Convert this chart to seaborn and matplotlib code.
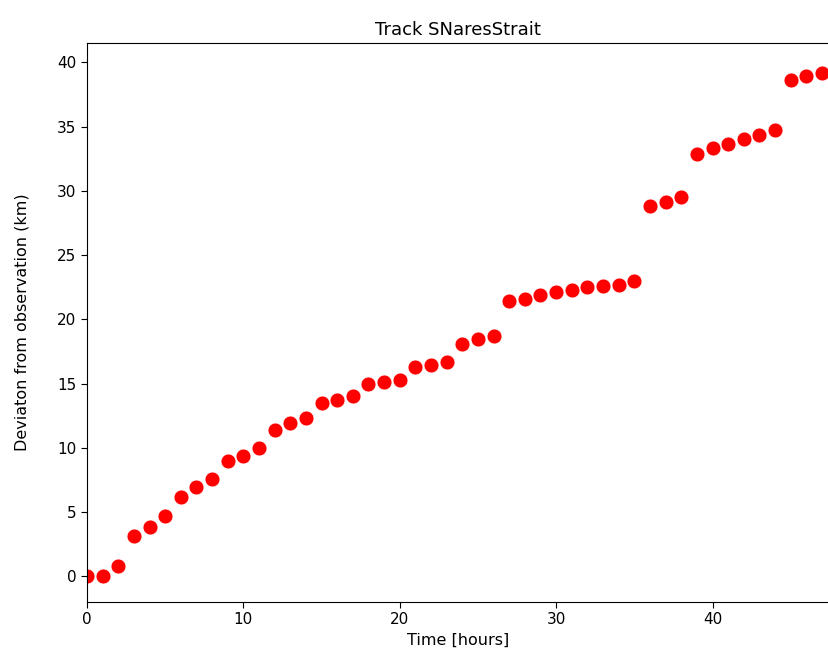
import pandas as pd
import matplotlib
matplotlib.use('Agg')
import matplotlib.pyplot as plt
import seaborn as sns

hours = list(range(48))
deviation = [0.0, 0.0, 0.8, 3.1, 3.85, 4.7, 6.2, 6.95, 7.55, 8.95,
             9.4, 9.95, 11.4, 11.9, 12.35, 13.5, 13.75, 14.0, 14.95, 15.15,
             15.3, 16.25, 16.45, 16.7, 18.1, 18.45, 18.7, 21.4, 21.6, 21.9,
             22.1, 22.25, 22.5, 22.6, 22.7, 22.95, 28.8, 29.1, 29.5, 32.85,
             33.3, 33.65, 34.0, 34.35, 34.7, 38.6, 38.95, 39.2]

df = pd.DataFrame({'hours': hours, 'deviation': deviation})

sns.set_style('ticks')
plt.rcParams['font.family'] = ['DejaVu Sans']
plt.rcParams['text.color'] = 'black'
plt.rcParams['axes.labelcolor'] = 'black'
plt.rcParams['xtick.color'] = 'black'
plt.rcParams['ytick.color'] = 'black'

fig = plt.figure(figsize=(8.29, 6.71), dpi=100)
ax = fig.add_axes([87/829, 69/671, 1 - 87/829, 559/671])
sns.scatterplot(x='hours', y='deviation', data=df, color='red', s=115,
                edgecolor='white', linewidth=0.5, ax=ax)
ax.set_xlim(0, 47.45)
ax.set_ylim(-2.0, 41.5)
ax.set_xticks([0, 10, 20, 30, 40])
ax.set_yticks([0, 5, 10, 15, 20, 25, 30, 35, 40])
ax.spines['right'].set_visible(False)
ax.tick_params(labelsize=11, length=4)
for sp in ax.spines.values():
    sp.set_color('black')
ax.set_title('Track SNaresStrait', fontsize=13)
ax.set_xlabel('Time [hours]', fontsize=11.5)
ax.set_ylabel('Deviaton from observation (km)', fontsize=11.5, labelpad=20)
fig.savefig('out.png', dpi=100)
